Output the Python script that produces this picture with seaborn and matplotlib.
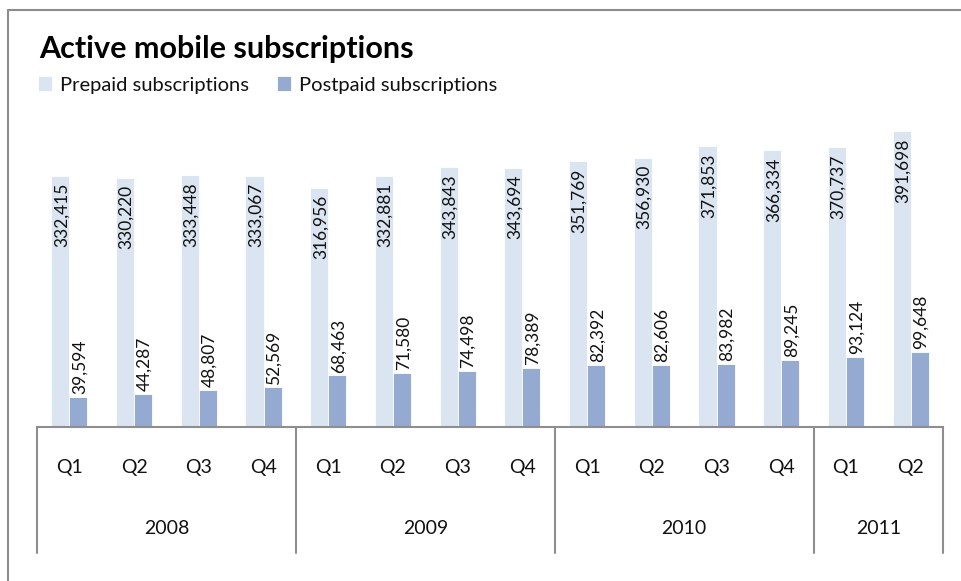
import matplotlib
matplotlib.use("Agg")
import matplotlib.pyplot as plt
import matplotlib.transforms as mtransforms
from matplotlib.lines import Line2D
import seaborn as sns
import pandas as pd

# ---- data ----
years = ["2008"] * 4 + ["2009"] * 4 + ["2010"] * 4 + ["2011"] * 2
quarters = ["Q1", "Q2", "Q3", "Q4"] * 3 + ["Q1", "Q2"]
prepaid = [332415, 330220, 333448, 333067, 316956, 332881, 343843, 343694,
           351769, 356930, 371853, 366334, 370737, 391698]
postpaid = [39594, 44287, 48807, 52569, 68463, 71580, 74498, 78389,
            82392, 82606, 83982, 89245, 93124, 99648]
series_names = ["Prepaid subscriptions", "Postpaid subscriptions"]
title = "Active mobile subscriptions"

cats = [f"{y} {q}" for y, q in zip(years, quarters)]
df = pd.DataFrame({
    "cat": cats * 2,
    "series": [series_names[0]] * len(cats) + [series_names[1]] * len(cats),
    "value": prepaid + postpaid,
})

colors = ["#DBE5F1", "#95AAD0"]
FONT = ["Lato", "DejaVu Sans"]

sns.set_theme(style="white")
plt.rcParams["font.family"] = FONT

W, H = 962, 581
fig = plt.figure(figsize=(W / 100, H / 100), dpi=100)
ax = fig.add_axes([37 / W, 1 - 427 / H, (943 - 37) / W, (427 - 125) / H])

sns.barplot(data=df, x="cat", y="value", hue="series", order=cats,
            hue_order=series_names, palette=colors, saturation=1,
            width=0.56, gap=0, edgecolor="white", linewidth=0.6, ax=ax,
            legend=True)

ax.set_ylim(0, 400000)
ax.set_xlim(-0.5, len(cats) - 0.5)
ax.set_xlabel("")
ax.set_ylabel("")
ax.set_yticks([])
for s in ["left", "right", "top"]:
    ax.spines[s].set_visible(False)
ax.spines["bottom"].set_color("#8E8E8E")
ax.spines["bottom"].set_linewidth(1.5)

# bar labels
for ci, cont in enumerate(ax.containers):
    for rect in cont.patches:
        x = rect.get_x() + rect.get_width() / 2
        h = rect.get_height()
        if ci == 0:
            ax.annotate(f"{int(round(h)):,}", (x, h), xytext=(1, -5),
                        textcoords="offset points", rotation=90,
                        ha="center", va="top", fontsize=12.5, color="#111111")
        else:
            ax.annotate(f"{int(round(h)):,}", (x, h), xytext=(1, 2),
                        textcoords="offset points", rotation=90,
                        ha="center", va="bottom", fontsize=12.5, color="#111111")

# x axis: quarter labels
ax.set_xticks(range(len(cats)))
ax.set_xticklabels(quarters, fontsize=14, color="#111111")
ax.tick_params(axis="x", length=0, pad=23)

# year group labels and separators
trans = mtransforms.blended_transform_factory(ax.transData, ax.transAxes)
axis_px = 427 - 125
y_bottom = -(553 - 427) / axis_px
y_year = -(528 - 427) / axis_px
bounds = [-0.5]
uniq = []
for y in years:
    if y not in uniq:
        uniq.append(y)
start = 0
for y in uniq:
    n = years.count(y)
    end = start + n
    ax.text((start + end - 1) / 2, y_year, y, transform=trans, ha="center",
            va="center", fontsize=14, color="#111111")
    bounds.append(end - 0.5)
    start = end
for b in bounds:
    ax.add_line(Line2D([b, b], [0, y_bottom], transform=trans, color="#8E8E8E",
                       linewidth=1.5, clip_on=False))

# legend
sns.move_legend(ax, "center left", bbox_to_anchor=(38 / W, 1 - 85 / H),
                bbox_transform=fig.transFigure, ncol=2, frameon=False,
                title=None, fontsize=14.5, handlelength=0.7, handleheight=0.7,
                handletextpad=0.4, columnspacing=1.4, borderaxespad=0,
                borderpad=0)
for t in ax.get_legend().get_texts():
    t.set_color("#111111")

# title
fig.text(39 / W, 1 - 58 / H, title, fontsize=22, fontweight="bold",
         ha="left", va="baseline", color="#000000")

# outer chart border (left and top visible)
fig.add_artist(Line2D([8 / W, 8 / W], [0, 1 - 10 / H], transform=fig.transFigure,
                      color="#8C8C8C", linewidth=1.5))
fig.add_artist(Line2D([8 / W, 1], [1 - 10 / H, 1 - 10 / H], transform=fig.transFigure,
                      color="#8C8C8C", linewidth=1.5))

fig.savefig("out.png", dpi=100)
